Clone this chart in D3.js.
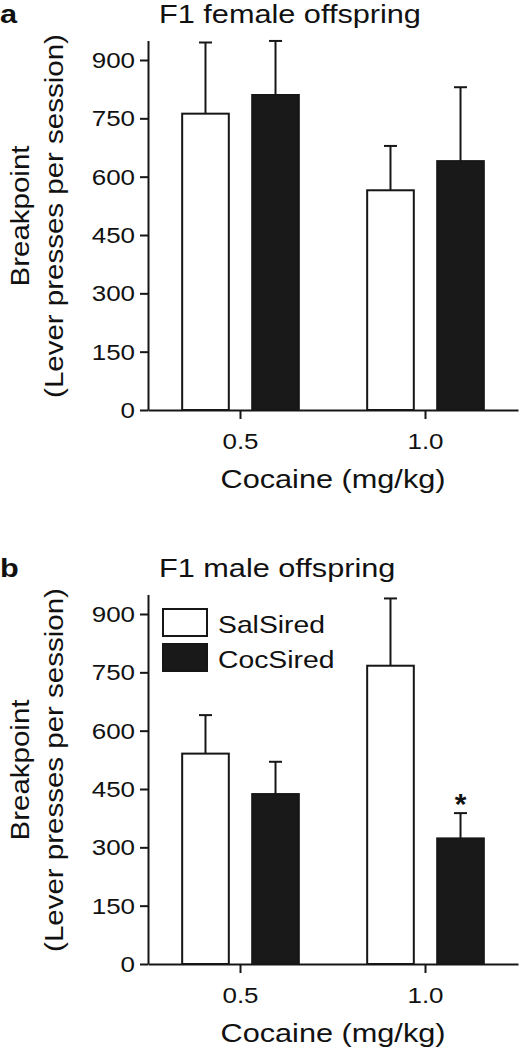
<!DOCTYPE html>
<html>
<head>
<meta charset="utf-8">
<script src="https://cdn.jsdelivr.net/npm/d3@7"></script>
<style>
  html, body { margin: 0; padding: 0; background: #fff; }
  svg { display: block; }
  text { font-family: "Liberation Sans", Arial, Helvetica, sans-serif; fill: #111; }
</style>
</head>
<body>
<svg id="chart" width="519" height="1050"></svg>
<script>
// ---------------- data ----------------
const categories = ["0.5", "1.0"];
const series = ["SalSired", "CocSired"];
const yTicks = [0, 150, 300, 450, 600, 750, 900];

const femaleSal = [762, 565];
const femaleSalSem = [183, 114];
const femaleCoc = [810, 640];
const femaleCocSem = [139, 190];

const maleSal = [541, 767];
const maleSalSem = [99, 173];
const maleCoc = [437, 323];
const maleCocSem = [83, 65];

const maleSignificant = [[false, false], [false, true]]; // [series][category]

const panelLabels = ["a", "b"];
const panelTitles = ["F1 female offspring", "F1 male offspring"];
const xAxisTitle = "Cocaine (mg/kg)";
const yAxisTitle = ["Breakpoint", "(Lever presses per session)"];

// ---------------- layout ----------------
const SX = 1.18;            // horizontal stretch of the lettering
const ink = "#161616";
const svg = d3.select("#chart");

const x0 = d3.scaleBand().domain(categories).range([148, 518]).padding(0);
const x1 = d3.scaleBand().domain(series).range([0, x0.bandwidth()])
  .paddingInner(0.334).paddingOuter(0.488);
const y = d3.scaleLinear().domain([0, 950]).range([410, 410 - 350 * 950 / 900]);

const color = d3.scaleOrdinal().domain(series).range(["#ffffff", "#191919"]);

const panels = [
  { offset: 0, values: [femaleSal, femaleCoc], sems: [femaleSalSem, femaleCocSem], sig: null, legend: false },
  { offset: 554, values: [maleSal, maleCoc], sems: [maleSalSem, maleCocSem], sig: maleSignificant, legend: true }
];

function stretchedText(g, x, yy, txt, opts) {
  const t = g.append("text")
    .attr("transform", `translate(${x},${yy})${opts.rotate ? " rotate(-90)" : ""} scale(${SX},1)`)
    .attr("text-anchor", opts.anchor || "start")
    .style("font-size", opts.size + "px")
    .text(txt);
  if (opts.bold) t.style("font-weight", "bold");
  return t;
}

panels.forEach((p, pi) => {
  const g = svg.append("g").attr("transform", `translate(0,${p.offset})`);

  // panel letter & title
  stretchedText(g, 0, 23, panelLabels[pi], { size: 26, bold: true });
  stretchedText(g, 159, 23, panelTitles[pi], { size: 26 });

  // bars
  const data = [];
  series.forEach((s, si) => {
    categories.forEach((c, ci) => {
      data.push({ s, c, v: p.values[si][ci], e: p.sems[si][ci], sig: p.sig ? p.sig[si][ci] : false });
    });
  });

  g.selectAll("rect.bar").data(data).enter().append("rect")
    .attr("class", "bar")
    .attr("x", d => x0(d.c) + x1(d.s))
    .attr("y", d => y(d.v))
    .attr("width", x1.bandwidth())
    .attr("height", d => y(0) - y(d.v))
    .attr("fill", d => color(d.s))
    .attr("stroke", ink)
    .attr("stroke-width", 2);

  // error bars (upper only)
  const eb = g.selectAll("g.err").data(data).enter().append("g").attr("class", "err");
  eb.append("line")
    .attr("x1", d => x0(d.c) + x1(d.s) + x1.bandwidth() / 2)
    .attr("x2", d => x0(d.c) + x1(d.s) + x1.bandwidth() / 2)
    .attr("y1", d => y(d.v))
    .attr("y2", d => y(d.v + d.e))
    .attr("stroke", ink).attr("stroke-width", 2);
  eb.append("line")
    .attr("x1", d => x0(d.c) + x1(d.s) + x1.bandwidth() / 2 - 6.5)
    .attr("x2", d => x0(d.c) + x1(d.s) + x1.bandwidth() / 2 + 6.5)
    .attr("y1", d => y(d.v + d.e))
    .attr("y2", d => y(d.v + d.e))
    .attr("stroke", ink).attr("stroke-width", 2);

  // significance asterisk
  data.filter(d => d.sig).forEach(d => {
    g.append("text")
      .attr("x", x0(d.c) + x1(d.s) + x1.bandwidth() / 2)
      .attr("y", y(d.v + d.e) + 1)
      .attr("text-anchor", "middle")
      .style("font-size", "30px").style("font-weight", "bold")
      .text("*");
  });

  // y axis
  const ya = g.append("g").attr("transform", `translate(${x0.range()[0]},0)`)
    .call(d3.axisLeft(y).tickValues(yTicks).tickFormat(d3.format("d")).tickSize(8).tickSizeOuter(0));
  ya.select(".domain").attr("stroke", ink).attr("stroke-width", 2);
  ya.selectAll(".tick line").attr("stroke", ink).attr("stroke-width", 2);
  ya.selectAll(".tick text")
    .attr("x", null).attr("dy", null)
    .attr("transform", `translate(-13,7.5) scale(${SX},1)`)
    .attr("fill", "#111")
    .style("font-size", "22px")
    .style("font-family", "'Liberation Sans', Arial, sans-serif");

  // x axis
  const xa = g.append("g").attr("transform", `translate(0,${y(0)})`)
    .call(d3.axisBottom(x0).tickSize(9).tickSizeOuter(0));
  xa.select(".domain").attr("stroke", ink).attr("stroke-width", 2);
  xa.selectAll(".tick line").attr("stroke", ink).attr("stroke-width", 2);
  xa.selectAll(".tick text")
    .attr("y", null).attr("dy", null)
    .attr("transform", `translate(0,39) scale(${SX},1)`)
    .attr("fill", "#111")
    .style("font-size", "22px")
    .style("font-family", "'Liberation Sans', Arial, sans-serif");

  // axis titles
  const xMid = (x0.range()[0] + x0.range()[1]) / 2;
  stretchedText(g, xMid, y(0) + 78, xAxisTitle, { size: 26, anchor: "middle" });
  const yMid = 216;
  stretchedText(g, 29, yMid, yAxisTitle[0], { size: 25, anchor: "middle", rotate: true });
  stretchedText(g, 63, yMid, yAxisTitle[1], { size: 25, anchor: "middle", rotate: true });

  // legend
  if (p.legend) {
    const lg = g.append("g");
    series.forEach((s, si) => {
      lg.append("rect")
        .attr("x", 163).attr("y", 55 + si * 35)
        .attr("width", 44).attr("height", 27)
        .attr("fill", color(s)).attr("stroke", ink).attr("stroke-width", 2);
      stretchedText(lg, 218, 79 + si * 35, s, { size: 24 });
    });
  }
});
</script>
</body>
</html>
